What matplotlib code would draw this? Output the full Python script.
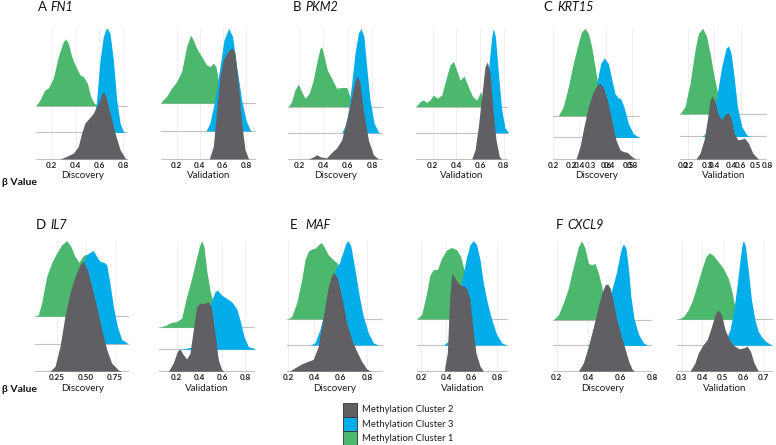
import matplotlib
matplotlib.use("Agg")
import matplotlib.pyplot as plt
from matplotlib.patches import Rectangle

plt.rcParams["font.family"] = ["Lato", "DejaVu Sans"]

W, H = 776, 445

GREEN = "#4cb86e"
BLUE = "#03ade9"
GRAY = "#606064"

# density curves: (beta value, ridge height in row units)
# C2 = Methylation Cluster 2 (grey), C3 = Cluster 3 (blue), C1 = Cluster 1 (green)
FN1_DISC_C1 = [(0.069, 0), (0.102, 0.22), (0.144, 0.6), (0.172, 0.66), (0.214, 1.04), (0.256, 1.85),
               (0.298, 2.41), (0.317, 2.51), (0.34, 2.35), (0.368, 1.85), (0.396, 1.54), (0.437, 1.16),
               (0.465, 1.1), (0.499, 0.85), (0.527, 0.35), (0.555, 0.1), (0.59, 0)]
FN1_DISC_C3 = [(0.516, 0), (0.549, 0.35), (0.577, 1.22), (0.605, 2.72), (0.633, 3.6), (0.655, 3.89),
               (0.666, 3.91), (0.689, 3.72), (0.717, 2.72), (0.745, 1.22), (0.773, 0.35), (0.80, 0.04), (0.82, 0)]
FN1_DISC_C2 = [(0.27, 0), (0.326, 0.1), (0.382, 0.22), (0.423, 0.47), (0.451, 0.97), (0.479, 1.35),
               (0.516, 1.54), (0.549, 1.72), (0.591, 2.1), (0.619, 2.44), (0.633, 2.54), (0.655, 2.35),
               (0.689, 1.72), (0.731, 0.97), (0.773, 0.35), (0.815, 0.04), (0.83, 0)]
FN1_VAL_C1 = [(0.065, 0), (0.070, 0.06), (0.114, 0.24), (0.157, 0.54), (0.2, 0.77), (0.243, 1.13),
              (0.286, 2.02), (0.321, 2.44), (0.344, 2.26), (0.373, 1.96), (0.416, 1.67), (0.459, 1.37),
              (0.488, 1.31), (0.517, 1.43), (0.540, 1.31), (0.560, 0.83), (0.580, 0.24), (0.603, 0)]
FN1_VAL_C3 = [(0.454, 0), (0.488, 0.29), (0.531, 1.12), (0.575, 2.31), (0.609, 3.26), (0.650, 3.68),
              (0.684, 3.38), (0.719, 2.31), (0.762, 1.12), (0.799, 0.4), (0.834, 0.05), (0.85, 0)]
FN1_VAL_C2 = [(0.482, 0), (0.517, 0.45), (0.546, 1.76), (0.575, 2.95), (0.603, 3.55), (0.632, 3.79),
              (0.676, 3.99), (0.704, 3.79), (0.733, 2.71), (0.762, 1.29), (0.791, 0.33), (0.820, 0.02), (0.83, 0)]

PKM2_DISC_C1 = [(0.113, 0), (0.140, 0.19), (0.167, 0.63), (0.195, 0.86), (0.222, 0.57), (0.249, 0.32),
                (0.284, 0.51), (0.317, 1.01), (0.344, 1.65), (0.372, 2.22), (0.385, 2.28), (0.404, 1.96),
                (0.432, 1.39), (0.467, 1.08), (0.508, 0.7), (0.549, 0.73), (0.590, 0.73), (0.617, 0.38), (0.644, 0)]
PKM2_DISC_C3 = [(0.549, 0), (0.576, 0.25), (0.603, 0.76), (0.631, 1.9), (0.658, 3.04), (0.685, 3.8),
                (0.707, 3.99), (0.731, 3.67), (0.753, 2.53), (0.780, 1.27), (0.813, 0.38), (0.849, 0.03), (0.86, 0)]
PKM2_DISC_C2 = [(0.276, 0), (0.317, 0.08), (0.344, 0.16), (0.377, 0.08), (0.426, 0.04), (0.467, 0.25),
                (0.508, 0.42), (0.549, 0.73), (0.590, 1.49), (0.631, 2.38), (0.658, 3.01), (0.677, 3.16),
                (0.699, 2.89), (0.726, 1.87), (0.767, 0.73), (0.808, 0.16), (0.849, 0)]
PKM2_VAL_C1 = [(0.059, 0), (0.093, 0.19), (0.121, 0.25), (0.149, 0.16), (0.177, 0.25), (0.206, 0.44),
               (0.239, 0.32), (0.276, 0.44), (0.318, 1.14), (0.346, 1.58), (0.375, 1.73), (0.403, 1.39),
               (0.431, 1.01), (0.465, 1.16), (0.501, 0.76), (0.538, 0.38), (0.572, 0.25), (0.606, 0.57), (0.642, 0)]
PKM2_VAL_C3 = [(0.594, 0), (0.628, 0.38), (0.656, 1.52), (0.679, 2.78), (0.699, 3.67), (0.713, 3.99),
               (0.730, 3.67), (0.755, 2.28), (0.783, 0.89), (0.811, 0.19), (0.839, 0.03)]
PKM2_VAL_C2 = [(0.530, 0), (0.558, 0.35), (0.586, 1.24), (0.614, 2.38), (0.642, 3.52), (0.662, 3.71),
               (0.685, 3.27), (0.707, 2.0), (0.735, 0.73), (0.763, 0.1), (0.783, 0)]

KRT15_DISC_C1 = [(0.240, 0), (0.278, 0.43), (0.316, 1.35), (0.353, 2.43), (0.391, 3.35), (0.416, 3.89),
                 (0.442, 4.05), (0.467, 3.82), (0.492, 3.2), (0.517, 2.28), (0.542, 1.35), (0.580, 0.43), (0.618, 0)]
KRT15_DISC_C3 = [(0.429, 0), (0.467, 0.34), (0.504, 1.42), (0.535, 2.65), (0.560, 3.42), (0.587, 3.68),
                 (0.618, 3.42), (0.643, 2.72), (0.668, 2.03), (0.693, 1.83), (0.711, 1.8), (0.736, 1.42),
                 (0.769, 0.65), (0.806, 0.18), (0.844, 0.03), (0.857, 0)]
KRT15_DISC_C2 = [(0.374, 0), (0.404, 0.58), (0.434, 1.51), (0.467, 2.43), (0.504, 3.12), (0.535, 3.43),
                 (0.555, 3.51), (0.580, 3.32), (0.610, 2.74), (0.643, 1.82), (0.675, 0.89), (0.706, 0.43),
                 (0.731, 0.35), (0.761, 0.31), (0.794, 0.12), (0.826, 0)]
KRT15_VAL_C1 = [(0.139, 0), (0.177, 0.32), (0.215, 1.35), (0.253, 2.82), (0.279, 3.56), (0.312, 3.78),
                (0.342, 3.41), (0.372, 2.53), (0.398, 1.65), (0.431, 0.76), (0.469, 0.18), (0.494, 0)]
KRT15_VAL_C3 = [(0.304, 0), (0.342, 0.15), (0.380, 0.59), (0.418, 1.76), (0.456, 3.09), (0.489, 3.9),
                (0.507, 4.0), (0.527, 3.68), (0.550, 2.65), (0.575, 1.32), (0.608, 0.44), (0.646, 0.07), (0.671, 0)]
KRT15_VAL_C2 = [(0.261, 0), (0.291, 0.26), (0.322, 0.85), (0.347, 1.74), (0.367, 2.62), (0.385, 2.79),
                (0.405, 2.54), (0.431, 1.96), (0.456, 1.74), (0.481, 1.96), (0.507, 2.06), (0.527, 1.81),
                (0.550, 1.15), (0.578, 0.85), (0.608, 0.88), (0.628, 0.93), (0.659, 0.71), (0.692, 0.26), (0.735, 0)]

IL7_DISC_C1 = [(0.064, 0), (0.093, 0.06), (0.121, 0.48), (0.164, 1.45), (0.207, 1.94), (0.25, 2.3),
               (0.293, 2.6), (0.336, 2.75), (0.370, 2.55), (0.407, 2.18), (0.441, 1.96), (0.473, 2.18),
               (0.501, 2.27), (0.53, 1.94), (0.579, 1.09), (0.621, 0.24), (0.664, 0)]
IL7_DISC_C3 = [(0.293, 0), (0.336, 0.16), (0.379, 0.52), (0.421, 1.73), (0.464, 2.82), (0.507, 3.24),
               (0.536, 3.33), (0.564, 3.39), (0.593, 3.18), (0.621, 3.0), (0.656, 2.96), (0.679, 2.88),
               (0.707, 2.21), (0.736, 1.36), (0.770, 0.64), (0.807, 0.16), (0.864, 0)]
IL7_DISC_C2 = [(0.193, 0), (0.236, 0.18), (0.279, 0.91), (0.321, 2.0), (0.364, 2.85), (0.407, 3.45),
               (0.45, 3.88), (0.479, 4.0), (0.513, 3.7), (0.55, 3.09), (0.593, 2.36), (0.636, 1.52),
               (0.679, 0.79), (0.721, 0.3), (0.779, 0.04), (0.807, 0)]
IL7_VAL_C1 = [(0.048, 0), (0.098, 0.08), (0.142, 0.2), (0.2, 0.27), (0.244, 0.42), (0.288, 1.41),
              (0.332, 2.24), (0.370, 3.08), (0.399, 3.68), (0.419, 3.95), (0.440, 3.68), (0.463, 2.62),
              (0.492, 1.71), (0.536, 0.8), (0.580, 0.2), (0.624, 0)]
IL7_VAL_C3 = [(0.229, 0), (0.288, 0.05), (0.346, 0.12), (0.405, 0.42), (0.463, 1.33), (0.507, 2.24),
              (0.536, 2.62), (0.557, 2.7), (0.595, 2.47), (0.639, 2.32), (0.682, 2.17), (0.726, 1.86),
              (0.756, 1.33), (0.791, 0.58), (0.829, 0.12), (0.887, 0.03)]
IL7_VAL_C2 = [(0.127, 0), (0.171, 0.38), (0.206, 0.91), (0.229, 1.02), (0.258, 0.76), (0.288, 0.56),
              (0.317, 0.83), (0.346, 1.89), (0.375, 2.95), (0.405, 3.11), (0.440, 3.08), (0.478, 3.18),
              (0.507, 2.88), (0.536, 1.74), (0.565, 0.53), (0.595, 0.08), (0.615, 0)]

MAF_DISC_C1 = [(0.195, 0), (0.203, 0.02), (0.228, 0.1), (0.266, 0.61), (0.304, 1.5), (0.329, 2.27),
               (0.354, 2.59), (0.380, 2.68), (0.405, 2.71), (0.430, 2.84), (0.451, 2.93), (0.473, 2.78),
               (0.506, 2.46), (0.544, 2.27), (0.575, 2.14), (0.595, 1.89), (0.633, 0.99), (0.671, 0.23), (0.709, 0)]
MAF_DISC_C3 = [(0.367, 0), (0.405, 0.09), (0.443, 0.6), (0.481, 1.36), (0.519, 2.25), (0.557, 2.89),
               (0.590, 3.15), (0.615, 3.53), (0.641, 3.92), (0.658, 4.0), (0.678, 3.78), (0.709, 2.89),
               (0.742, 1.86), (0.772, 1.1), (0.810, 0.47), (0.848, 0.09), (0.886, 0)]
MAF_DISC_C2 = [(0.21, 0), (0.253, 0.13), (0.304, 0.28), (0.354, 0.38), (0.392, 0.45), (0.430, 0.96),
               (0.468, 2.1), (0.506, 3.25), (0.532, 3.69), (0.549, 3.78), (0.575, 3.57), (0.608, 2.87),
               (0.646, 1.85), (0.684, 1.21), (0.722, 0.76), (0.759, 0.38), (0.797, 0.09), (0.828, 0)]
MAF_VAL_C1 = [(0.166, 0), (0.205, 0.17), (0.239, 0.87), (0.271, 1.69), (0.297, 1.89), (0.329, 1.89),
              (0.363, 2.33), (0.403, 2.65), (0.442, 2.74), (0.482, 2.65), (0.513, 2.39), (0.547, 1.76),
              (0.587, 0.87), (0.626, 0.23), (0.666, 0)]
MAF_VAL_C3 = [(0.376, 0), (0.416, 0.15), (0.455, 0.73), (0.495, 1.75), (0.534, 2.76), (0.561, 3.4),
              (0.587, 3.85), (0.613, 4.0), (0.639, 3.85), (0.666, 3.27), (0.692, 2.38), (0.724, 1.62),
              (0.758, 0.98), (0.797, 0.41), (0.837, 0.09), (0.876, 0)]
MAF_VAL_C2 = [(0.385, 0), (0.389, 0.2), (0.408, 0.7), (0.424, 2.61), (0.442, 3.76), (0.461, 3.63),
              (0.482, 3.44), (0.508, 3.31), (0.534, 3.27), (0.561, 3.18), (0.587, 2.74), (0.608, 1.72),
              (0.634, 0.7), (0.666, 0.19), (0.692, 0)]

CXCL9_DISC_C1 = [(0.179, 0), (0.211, 0.19), (0.242, 0.65), (0.274, 1.23), (0.295, 1.81), (0.316, 2.32),
                 (0.337, 2.84), (0.358, 3.07), (0.379, 2.77), (0.40, 2.19), (0.421, 2.13), (0.442, 2.19),
                 (0.463, 1.81), (0.484, 1.29), (0.505, 0.65), (0.537, 0)]
CXCL9_DISC_C3 = [(0.389, 0), (0.421, 0.1), (0.453, 0.36), (0.484, 0.88), (0.516, 1.39), (0.547, 2.17),
                 (0.575, 2.81), (0.596, 3.46), (0.611, 3.85), (0.621, 3.94), (0.636, 3.78), (0.653, 2.94),
                 (0.667, 1.91), (0.688, 1.01), (0.716, 0.43), (0.747, 0.1), (0.773, 0)]
CXCL9_DISC_C2 = [(0.337, 0), (0.368, 0.32), (0.40, 0.97), (0.432, 1.74), (0.457, 2.39), (0.484, 3.03),
                 (0.505, 3.35), (0.52, 3.39), (0.537, 3.23), (0.558, 2.65), (0.579, 2.0), (0.604, 1.42),
                 (0.632, 0.84), (0.653, 0.39), (0.674, 0.09), (0.688, 0)]
CXCL9_VAL_C1 = [(0.284, 0), (0.308, 0.1), (0.332, 0.36), (0.353, 0.74), (0.373, 1.26), (0.397, 1.9),
                (0.418, 2.41), (0.435, 2.56), (0.454, 2.47), (0.478, 2.22), (0.503, 1.96), (0.527, 1.58),
                (0.543, 1.13), (0.559, 0.49), (0.584, 0)]
CXCL9_VAL_C3 = [(0.486, 0), (0.511, 0.14), (0.535, 0.59), (0.554, 1.36), (0.571, 2.38), (0.584, 3.28),
                (0.595, 3.92), (0.60, 4.03), (0.610, 3.86), (0.624, 2.9), (0.640, 1.74), (0.657, 0.97),
                (0.673, 0.53), (0.689, 0.33), (0.710, 0.14), (0.738, 0.01)]
CXCL9_VAL_C2 = [(0.341, 0), (0.365, 0.32), (0.381, 0.7), (0.402, 0.99), (0.425, 1.22), (0.446, 1.73),
                (0.462, 2.18), (0.478, 2.37), (0.494, 2.18), (0.511, 1.6), (0.532, 1.22), (0.554, 0.99),
                (0.580, 0.86), (0.603, 0.9), (0.619, 0.96), (0.635, 0.77), (0.652, 0.32), (0.673, 0)]

PANEL_LETTERS = ["A", "B", "C", "D", "E", "F"]
GENES = ["FN1", "PKM2", "KRT15", "IL7", "MAF", "CXCL9"]
COHORTS = ["Discovery", "Validation"]
TICKS_02 = [0.2, 0.4, 0.6, 0.8]
TICKS_IL7_DISC = [0.25, 0.50, 0.75]
TICKS_CXCL9_VAL = [0.3, 0.4, 0.5, 0.6, 0.7]
TICKS_KRT15_EXTRA = [0.2, 0.3, 0.4, 0.5]
LEGEND_LABELS = ["Methylation Cluster 2", "Methylation Cluster 3", "Methylation Cluster 1"]
RIDGE_COLORS = [GRAY, BLUE, GREEN]  # bottom ridge to top ridge

fig = plt.figure(figsize=(W / 100, H / 100), dpi=100)

TICK_STYLE = dict(length=0, pad=2, labelsize=5.8, labelcolor="#1c1c1c")


def fx(px):
    return px / W


def fy(py):
    return 1 - py / H


def style_ticklabels(axis_obj):
    for lab in axis_obj.get_xticklabels():
        lab.set_fontweight("bold")


def ridge_axes(left, right, top, bottom, curves, xlim, ticks, labelfmt, xlabel, extra=None):
    ax = fig.add_axes([fx(left), fy(bottom), fx(right - left), (bottom - top) / H])
    # top ridge first so the lower ridges sit in front of it
    for offset in (2, 1, 0):
        pts = curves[offset]
        xs = [p[0] for p in pts]
        ys = [offset + p[1] for p in pts]
        ax.fill_between(xs, offset, ys, color=RIDGE_COLORS[offset], lw=0, zorder=5 - offset)
    for offset in range(3):
        ax.axhline(offset, color="#c2c2c2", lw=0.8, zorder=1)
    top_val = max(off + p[1] for off, pts in enumerate(curves) for p in pts)
    ax.set_ylim(-0.02, top_val)
    ax.set_xlim(*xlim)
    ax.set_xticks(ticks)
    ax.set_xticklabels([labelfmt.format(t) for t in ticks])
    ax.set_yticks([])
    ax.grid(axis="x", color="#ececec", lw=0.6, zorder=0)
    ax.set_axisbelow(True)
    ax.tick_params(axis="x", **TICK_STYLE)
    style_ticklabels(ax)
    for s in ax.spines.values():
        s.set_visible(False)
    ax.set_xlabel(xlabel, fontsize=7, labelpad=1.5, color="#1a1a1a")
    if extra is not None:
        k, c = extra
        sec = ax.secondary_xaxis("bottom", functions=(lambda a: k * a + c, lambda b: (b - c) / k))
        sec.set_xticks(TICKS_KRT15_EXTRA)
        sec.set_xticklabels(["{:.1f}".format(t) for t in TICKS_KRT15_EXTRA])
        sec.tick_params(axis="x", **TICK_STYLE)
        style_ticklabels(sec)
        for s in sec.spines.values():
            s.set_visible(False)
    return ax


ROW1 = (28.3, 159.5)
ROW2 = (240.7, 371.7)
F1 = "{:.1f}"
F2 = "{:.2f}"

ridge_axes(36, 128.3, *ROW1, [FN1_DISC_C2, FN1_DISC_C3, FN1_DISC_C1], (0.069, 0.842), TICKS_02, F1, COHORTS[0])
ridge_axes(161, 256, *ROW1, [FN1_VAL_C2, FN1_VAL_C3, FN1_VAL_C1], (0.065, 0.886), TICKS_02, F1, COHORTS[1])
ridge_axes(288.3, 383.3, *ROW1, [PKM2_DISC_C2, PKM2_DISC_C3, PKM2_DISC_C1], (0.113, 0.889), TICKS_02, F1, COHORTS[0])
ridge_axes(416, 508.3, *ROW1, [PKM2_VAL_C2, PKM2_VAL_C3, PKM2_VAL_C1], (0.059, 0.839), TICKS_02, F1, COHORTS[1])
ridge_axes(553, 640, *ROW1, [KRT15_DISC_C2, KRT15_DISC_C3, KRT15_DISC_C1], (0.2, 0.857), TICKS_02, F1, COHORTS[0],
           extra=(0.6865, -0.0306))
ridge_axes(680, 767, *ROW1, [KRT15_VAL_C2, KRT15_VAL_C3, KRT15_VAL_C1], (0.139, 0.80), TICKS_02, F1, COHORTS[1],
           extra=(0.548, 0.1112))

ridge_axes(35, 129.3, *ROW2, [IL7_DISC_C2, IL7_DISC_C3, IL7_DISC_C1], (0.064, 0.873), TICKS_IL7_DISC, F2, COHORTS[0])
ridge_axes(159.3, 255, *ROW2, [IL7_VAL_C2, IL7_VAL_C3, IL7_VAL_C1], (0.048, 0.887), TICKS_02, F1, COHORTS[1])
ridge_axes(287.3, 382.7, *ROW2, [MAF_DISC_C2, MAF_DISC_C3, MAF_DISC_C1], (0.195, 0.919), TICKS_02, F1, COHORTS[0])
ridge_axes(416.7, 508.3, *ROW2, [MAF_VAL_C2, MAF_VAL_C3, MAF_VAL_C1], (0.166, 0.889), TICKS_02, F1, COHORTS[1])
ridge_axes(553.3, 652, *ROW2, [CXCL9_DISC_C2, CXCL9_DISC_C3, CXCL9_DISC_C1], (0.179, 0.80), TICKS_02, F1, COHORTS[0])
ridge_axes(676.7, 773.3, *ROW2, [CXCL9_VAL_C2, CXCL9_VAL_C3, CXCL9_VAL_C1], (0.276, 0.746), TICKS_CXCL9_VAL, F1,
           COHORTS[1])

# panel titles: upright letter, italic gene symbol
title_spots = [(38, 50, 7), (293, 305, 7), (543, 557, 7), (36, 50, 225), (290, 305, 225), (556, 567, 225)]
for letter, gene, (lx, gx, ty) in zip(PANEL_LETTERS, GENES, title_spots):
    fig.text(fx(lx), fy(ty), letter, fontsize=9.5, va="center", ha="left", color="#111111")
    fig.text(fx(gx), fy(ty), gene, fontsize=9, style="italic", va="center", ha="left", color="#111111")

for ty in (182, 389):
    fig.text(fx(2), fy(ty), "β Value", fontsize=7.5, fontweight="bold", va="center", ha="left", color="#111111")

# legend
for i, (label, color) in enumerate(zip(LEGEND_LABELS, RIDGE_COLORS)):
    cy = 410 + 14.2 * i
    fig.patches.append(Rectangle((fx(343), fy(cy + 7)), 14 / W, 14 / H, transform=fig.transFigure,
                                 facecolor=color, edgecolor="#333333", lw=0.6))
    fig.text(fx(362), fy(cy), label, fontsize=6.8, va="center", ha="left", color="#1e1e1e")

fig.savefig("out.png", dpi=100)
